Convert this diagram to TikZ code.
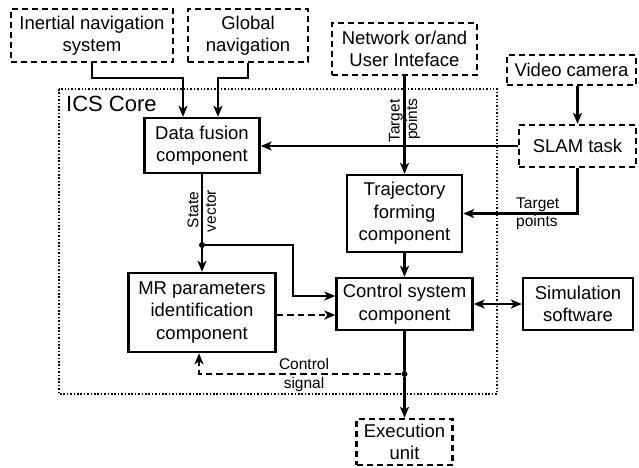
\documentclass[tikz,border=0pt]{standalone}
\usepackage{fontspec}
\setmainfont{Liberation Sans}
\usetikzlibrary{arrows.meta}
\begin{document}
\begin{tikzpicture}[x=1pt,y=-1pt,
  base/.style={rectangle,inner sep=0pt,align=center,font=\fontsize{18.5}{22.5}\selectfont},
  box/.style={base,draw,line width=2.4pt},
  dbox/.style={base,draw,line width=2.4pt,dash pattern=on 6pt off 4pt},
  lbl/.style={inner sep=0pt,font=\fontsize{15.5}{18.5}\selectfont},
  arr/.style={line width=2.4pt,-{Stealth[length=11pt,width=9pt,inset=3pt]}},
  darr/.style={arr,dash pattern=on 6.5pt off 4pt},
  dbl/.style={line width=2.4pt,{Stealth[length=11pt,width=9pt,inset=3pt]}-{Stealth[length=11pt,width=9pt,inset=3pt]}},
  ln/.style={line width=2.4pt},
  dotc/.style={circle,fill,inner sep=0pt,minimum size=6pt}]
\useasboundingbox (0,0) rectangle (639,467);
% ICS core
\draw[line width=2.4pt,dash pattern=on 1.5pt off 1.9pt] (59,89) rectangle (497,394);
\node[anchor=west,inner sep=0pt,font=\fontsize{22}{26}\selectfont] (core) at (66,104) {ICS Core};
% boxes
\node[dbox,minimum width=162pt,minimum height=53pt] (ins) at (92,35.5) {Inertial navigation\\system};
\node[dbox,minimum width=120pt,minimum height=53pt] (glob) at (248,35.5) {Global\\navigation};
\node[dbox,minimum width=145pt,minimum height=52pt] (net) at (404.5,49) {Network or/and\\User Inteface};
\node[dbox,minimum width=129pt,minimum height=30pt] (vid) at (571.5,70) {Video camera};
\node[dbox,minimum width=117pt,minimum height=42pt] (slam) at (577.5,146) {SLAM task};
\node[box,minimum width=115pt,minimum height=55pt] (df) at (202,145.5) {Data fusion\\component};
\node[box,minimum width=115pt,minimum height=77pt] (traj) at (404.5,213.5) {Trajectory\\forming\\component};
\node[box,minimum width=147pt,minimum height=79pt] (mr) at (202,312.5) {MR parameters\\identification\\component};
\node[box,minimum width=136pt,minimum height=52pt] (ctrl) at (404.5,304) {Control system\\component};
\node[box,minimum width=110pt,minimum height=52pt] (sim) at (578,304) {Simulation\\software};
\node[dbox,minimum width=96pt,minimum height=46pt] (exec) at (404.5,442) {Execution\\unit};
% coordinates
\coordinate (j1) at (183,78);
\coordinate (j2) at (218,78);
\coordinate (k) at (293,296);
\coordinate (d) at (300,315);
\coordinate (cc) at (199,374);
\node[dotc] (sv) at (202,245) {};
\node[dotc] (cs) at (404.5,374) {};
% connectors
\draw[arr] (ins.south) -- (ins.south |- j1) -- (j1) -- (j1 |- df.north);
\draw[arr] (glob.south) -- (glob.south |- j2) -- (j2) -- (j2 |- df.north);
\draw[arr] (net.south) -- (traj.north);
\draw[arr] (vid.south -| slam.north) -- (slam.north);
\draw[arr] (slam.west) -- (slam.west -| df.east);
\draw[arr] (slam.south) |- (traj.east);
\draw[arr] (traj.south) -- (ctrl.north);
\draw[ln] (df.south) -- (sv);
\draw[arr] (sv) -- (mr.north);
\draw[arr] (sv) -| (k) -- (k -| ctrl.west);
\draw[darr] (mr.east |- d) -- (ctrl.west |- d);
\draw[dbl] (ctrl.east) -- (sim.west);
\draw[ln] (ctrl.south) -- (cs);
\draw[arr] (cs) -- (exec.north);
\draw[darr] (cs) -- (cc) -- (cc |- mr.south);
% labels
\node[lbl,rotate=90] (tp1) at (396,121) {Target};
\node[lbl,rotate=90] (tp2) at (413,119) {points};
\node[lbl,rotate=90] (sv1) at (193,210) {State};
\node[lbl,rotate=90] (sv2) at (211,211) {vector};
\node[lbl,align=left,anchor=west] (tp3) at (516,214) {Target\\points};
\node[lbl] (cs1) at (304,364) {Control};
\node[lbl] (cs2) at (304,384) {signal};
\end{tikzpicture}
\end{document}
